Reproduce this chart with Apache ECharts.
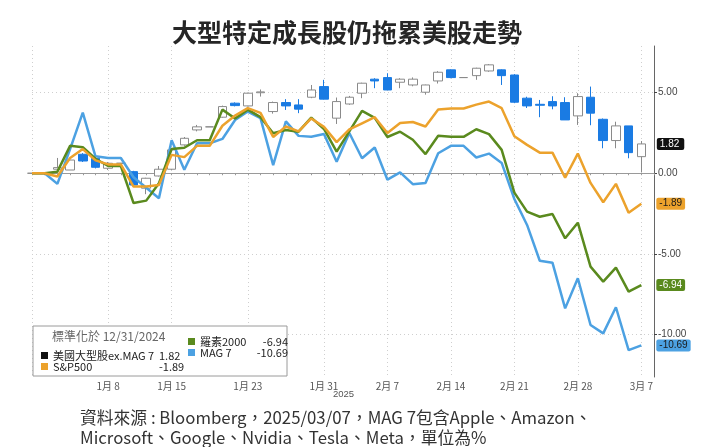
<!DOCTYPE html>
<html>
<head>
<meta charset="utf-8">
<title>大型特定成長股仍拖累美股走勢</title>
<style>
  html, body { margin: 0; padding: 0; background: #fff; }
  #chart { width: 725px; height: 447px; }
</style>
<script src="https://cdn.jsdelivr.net/npm/echarts@6/dist/echarts.min.js"></script>
</head>
<body>
<div id="chart"></div>
<script>
// 交易日，標準化於 2024/12/31，單位 %
var tradeDates = [
  '2024-12-31','2025-01-02','2025-01-03','2025-01-06','2025-01-07','2025-01-08','2025-01-10',
  '2025-01-13','2025-01-14','2025-01-15','2025-01-16','2025-01-17','2025-01-21','2025-01-22',
  '2025-01-23','2025-01-24','2025-01-27','2025-01-28','2025-01-29','2025-01-30','2025-01-31',
  '2025-02-03','2025-02-04','2025-02-05','2025-02-06','2025-02-07','2025-02-10','2025-02-11',
  '2025-02-12','2025-02-13','2025-02-14','2025-02-18','2025-02-19','2025-02-20','2025-02-21',
  '2025-02-24','2025-02-25','2025-02-26','2025-02-27','2025-02-28','2025-03-03','2025-03-04',
  '2025-03-05','2025-03-06','2025-03-07'
];

var mag7 = [0, -0.66, 1.5, 3.76, 1.05, 0.95, -0.25, -0.9, -1.55, 2.05, 0.22, 1.86, 2.13, 3.31,
  3.83, 3.42, 0.5, 3.22, 2.32, 2.27, 2.44, 0.72, 2.5, 0.93, 1.6, -0.4, 0.05, -0.68, -0.6, 1.24,
  1.7, 0.98, 1.22, 0.64, -1.6, -3.21, -5.43, -5.55, -8.39, -6.52, -9.42, -9.94, -8.32, -10.98, -10.69];

var russell2000 = [0, 0.1, 1.7, 1.62, 0.9, 0.45, -1.85, -1.7, -0.62, 1.5, 1.58, 2.05, 3.95, 3.4,
  3.95, 3.48, 2.48, 2.69, 2.58, 3.45, 2.75, 1.34, 2.6, 3.87, 3.44, 2.25, 2.58, 2.08, 1.19, 2.33,
  2.26, 2.73, 2.43, 1.45, -1.2, -2.38, -2.7, -2.53, -4.04, -3.07, -5.8, -6.73, -5.86, -7.35, -6.94];

var sp500 = [0, -0.2, 0.95, 1.5, 0.8, 0.55, -0.83, -0.83, -0.73, 1.14, 1.0, 1.7, 2.95, 3.58,
  4.04, 3.75, 2.25, 2.9, 2.6, 3.4, 2.88, 1.93, 2.72, 3.1, 3.48, 2.5, 3.12, 3.18, 2.9, 3.96,
  4.02, 4.26, 4.45, 4.04, 2.3, 1.76, 1.28, 1.28, -0.28, 1.22, -0.6, -1.8, -0.66, -2.45, -1.89];

// 美國大型股ex.MAG 7: [開, 收, 低, 高]
var exMag7 = [
  [0, 0, 0, 0], [0.25, 0.35, 0.2, 0.95], [0.2, 0.82, 0.2, 0.85], [1.18, 0.76, 0.7, 1.25],
  [0.93, 0.37, 0.3, 1.0], [0.31, 0.62, 0.2, 0.7], [0.1, -0.73, -0.8, 0.15], [-0.93, -0.31, -1.3, -0.28],
  [-0.17, 0.25, -0.2, 0.45], [0.25, 1.45, 0.2, 1.5], [1.76, 2.17, 1.7, 2.25], [2.69, 2.88, 2.6, 3.0],
  [3.48, 4.14, 3.45, 4.2], [4.35, 4.2, 4.15, 4.4], [4.18, 4.97, 4.15, 5.0], [5.0, 5.05, 4.76, 5.2],
  [3.83, 4.39, 3.7, 4.45], [4.39, 4.18, 3.93, 4.6], [4.24, 3.98, 3.73, 4.6], [4.72, 5.17, 4.66, 5.48],
  [5.38, 4.6, 4.58, 5.8], [3.42, 4.45, 3.06, 4.7], [4.3, 4.72, 4.25, 4.8], [4.97, 5.59, 4.66, 5.62],
  [5.84, 5.73, 5.28, 5.9], [5.94, 5.17, 5.17, 6.21], [5.65, 5.84, 5.28, 5.9], [5.48, 5.84, 5.4, 5.95],
  [5.03, 5.48, 4.88, 5.5], [5.73, 6.27, 5.57, 6.34], [6.42, 5.94, 5.9, 6.45], [6.06, 6.52, 5.8, 6.55],
  [6.35, 6.73, 6.3, 6.78], [6.42, 6.06, 5.48, 6.45], [6.1, 4.41, 4.35, 6.15], [4.66, 4.18, 4.05, 4.75],
  [4.28, 4.22, 3.48, 4.55], [4.45, 4.18, 3.97, 4.78], [4.39, 3.31, 3.31, 4.72], [3.56, 4.76, 3.0, 4.97],
  [4.72, 3.73, 2.98, 5.38], [3.35, 2.03, 1.55, 3.4], [2.03, 2.94, 1.55, 3.2], [2.94, 1.28, 0.93, 2.94],
  [1.03, 1.82, 0.05, 2.0]
];

var tickDates = ['2025-01-08','2025-01-15','2025-01-23','2025-01-31','2025-02-07',
  '2025-02-14','2025-02-21','2025-02-28','2025-03-07'];
var tickLabels = ['1月 8','1月 15','1月 23','1月 31','2月 7','2月 14','2月 21','2月 28','3月 7'];

var names = {
  ex: '美國大型股ex.MAG 7',
  rus: '羅素2000',
  mag: 'MAG 7',
  spx: 'S&P500'
};
var colors = { ex: '#111111', rus: '#5a8a1e', mag: '#4ca1e2', spx: '#eca22c', candle: '#1a7be3' };

// 橫軸: 所有平日 (假日沿用前一交易日)
function weekdays(from, to) {
  var out = [];
  var d = new Date(from + 'T00:00:00Z'), end = new Date(to + 'T00:00:00Z');
  while (d <= end) {
    var w = d.getUTCDay();
    if (w !== 0 && w !== 6) out.push(d.toISOString().slice(0, 10));
    d.setUTCDate(d.getUTCDate() + 1);
  }
  return out;
}
var days = weekdays('2024-12-31', '2025-03-10');

function onDays(values, holiday) {
  var out = [], k = 0;
  for (var i = 0; i < days.length && k < tradeDates.length; i++) {
    if (tradeDates[k] === days[i]) {
      out.push(values[k]);
      k++;
    } else {
      out.push(holiday(values[k - 1]));
    }
  }
  return out;
}
function same(v) { return v; }
function flat(c) { return [c[1], c[1], c[1], c[1]]; }

var lastDay = tradeDates[tradeDates.length - 1];
var lastOf = function (arr) { return arr[arr.length - 1]; };

var labelOf = {};
tickDates.forEach(function (d, i) { labelOf[d] = tickLabels[i]; });

var cjk = '"Noto Sans CJK TC", "Noto Sans", sans-serif';

function lineSeries(key, values) {
  var last = lastOf(values);
  return {
    name: names[key],
    type: 'line',
    data: onDays(values, same),
    symbol: 'none',
    color: colors[key],
    lineStyle: { width: 2.5, color: colors[key] },
    z: 3,
    endLabel: {
      show: true,
      distance: 15,
      formatter: function () { return last.toFixed(2); },
      backgroundColor: colors[key],
      color: key === 'rus' ? '#ffffff' : '#1a1a1a',
      fontSize: 10,
      fontFamily: 'Arial, sans-serif',
      padding: [1, 3],
      borderRadius: 2
    }
  };
}

var legendVals = {};
legendVals[names.ex] = lastOf(exMag7)[1].toFixed(2);
legendVals[names.rus] = lastOf(russell2000).toFixed(2);
legendVals[names.mag] = lastOf(mag7).toFixed(2);
legendVals[names.spx] = lastOf(sp500).toFixed(2);

var chart = echarts.init(document.getElementById('chart'));

var option = {
  animation: false,
  backgroundColor: '#ffffff',
  title: {
    text: '大型特定成長股仍拖累美股走勢',
    left: 167,
    top: 15,
    textStyle: { fontSize: 25, fontWeight: 'bold', color: '#262626', fontFamily: cjk }
  },
  grid: { left: 32, right: 71, top: 46, bottom: 70, containLabel: false },
  xAxis: {
    type: 'category',
    data: days,
    boundaryGap: false,
    axisLine: { lineStyle: { color: '#9a9a9a' } },
    axisTick: { show: true, interval: 0, length: 2, lineStyle: { color: '#9a9a9a' } },
    axisLabel: {
      interval: function (i, v) { return labelOf[v] !== undefined; },
      formatter: function (v) { return labelOf[v] || ''; },
      fontSize: 10,
      color: '#555',
      margin: 4,
      fontFamily: cjk
    },
    splitLine: {
      show: true,
      interval: function (i, v) { return i === 0 || labelOf[v] !== undefined; },
      lineStyle: { color: '#cfcfcf', type: [1, 3] }
    }
  },
  yAxis: {
    type: 'value',
    position: 'right',
    min: -12.65,
    max: 7.9,
    splitNumber: 4,
    axisLine: { show: true, lineStyle: { color: '#666' } },
    axisTick: { show: true, length: 3, lineStyle: { color: '#444' } },
    axisLabel: {
      formatter: function (v) { return v.toFixed(2); },
      showMinLabel: false,
      showMaxLabel: false,
      fontSize: 10,
      color: '#444',
      margin: 4,
      fontFamily: 'Arial, sans-serif'
    },
    splitLine: {
      show: true,
      showMinLine: false,
      showMaxLine: false,
      lineStyle: { color: '#cfcfcf', type: [1, 3] }
    }
  },
  legend: [
    {
      orient: 'vertical',
      left: 36,
      top: 345,
      selectedMode: false,
      itemWidth: 7,
      itemHeight: 7,
      itemGap: 0,
      z: 6,
      data: [
        { name: names.ex, icon: 'rect', itemStyle: { color: colors.ex, borderWidth: 0 } },
        { name: names.spx, icon: 'rect' }
      ],
      formatter: function (n) { return '{n|' + n + '}{v|' + legendVals[n] + '}'; },
      textStyle: {
        color: '#222', fontSize: 11, fontFamily: cjk,
        rich: {
          n: { width: 106, fontSize: 11, lineHeight: 13, fontFamily: cjk, color: '#222' },
          v: { fontSize: 11, lineHeight: 13, fontFamily: cjk, color: '#222' }
        }
      }
    },
    {
      orient: 'vertical',
      left: 183,
      top: 331,
      selectedMode: false,
      itemWidth: 7,
      itemHeight: 7,
      itemGap: 0,
      z: 6,
      data: [
        { name: names.rus, icon: 'rect' },
        { name: names.mag, icon: 'rect' }
      ],
      formatter: function (n) { return '{n|' + n + '}{v|' + legendVals[n] + '}'; },
      textStyle: {
        color: '#222', fontSize: 11, fontFamily: cjk,
        rich: {
          n: { width: 50, fontSize: 11, lineHeight: 13, fontFamily: cjk, color: '#222' },
          v: { width: 38, align: 'right', fontSize: 11, lineHeight: 13, fontFamily: cjk, color: '#222' }
        }
      }
    }
  ],
  graphic: [
    {
      type: 'rect', z: 5,
      shape: { x: 33, y: 326, width: 254, height: 50 },
      style: { fill: '#ffffff', stroke: '#9a9a9a', lineWidth: 1 }
    },
    {
      type: 'text', z: 6, left: 52, top: 330,
      style: { text: '標準化於 12/31/2024', fill: '#666', font: '12px ' + cjk }
    },
    {
      type: 'text', left: 333, top: 389,
      style: { text: '2025', fill: '#555', font: '9.5px Arial, sans-serif' }
    },
    {
      type: 'text', left: 80, top: 408,
      style: {
        text: '資料來源 : Bloomberg，2025/03/07，MAG 7包含Apple、Amazon、\nMicrosoft、Google、Nvidia、Tesla、Meta，單位為%',
        fill: '#333',
        font: '16.8px ' + cjk,
        lineHeight: 19.5
      }
    }
  ],
  series: [
    {
      name: names.ex,
      type: 'candlestick',
      data: onDays(exMag7, flat),
      barWidth: 9,
      z: 2,
      itemStyle: {
        color: '#ffffff',
        color0: colors.candle,
        borderColor: '#8a8a8a',
        borderColor0: colors.candle,
        borderWidth: 1
      },
      markPoint: {
        symbol: 'rect',
        symbolSize: 1,
        itemStyle: { color: 'rgba(0,0,0,0)' },
        data: [{ coord: [lastDay, lastOf(exMag7)[1]] }],
        label: {
          show: true,
          position: 'right',
          distance: 15,
          formatter: function () { return lastOf(exMag7)[1].toFixed(2); },
          backgroundColor: '#111',
          color: '#fff',
          fontSize: 10,
          fontFamily: 'Arial, sans-serif',
          padding: [1, 5, 1, 3],
          borderRadius: 2
        }
      }
    },
    lineSeries('mag', mag7),
    lineSeries('rus', russell2000),
    lineSeries('spx', sp500)
  ]
};

chart.setOption(option);
</script>
</body>
</html>
